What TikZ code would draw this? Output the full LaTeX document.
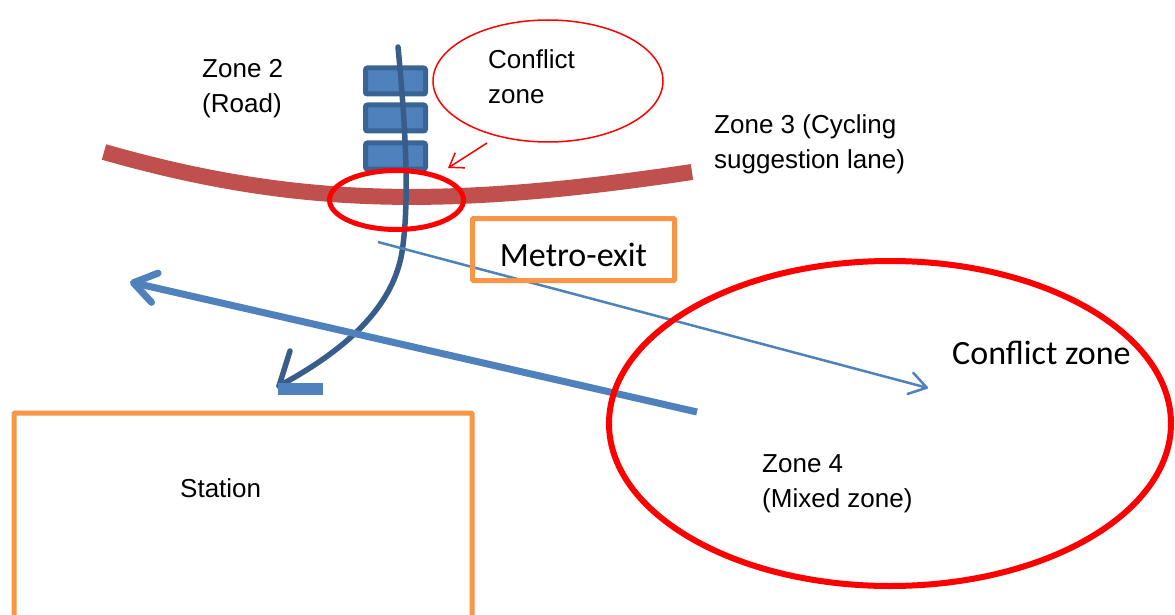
\documentclass[tikz,border=0pt]{standalone}
\usepackage{fontspec}
\setmainfont{Liberation Sans}
\newfontfamily\calibrifont{Carlito}
\usetikzlibrary{shapes.geometric,arrows.meta}
\definecolor{roadred}{HTML}{C0504D}
\definecolor{zonered}{HTML}{FF0000}
\definecolor{accblue}{HTML}{4F81BD}
\definecolor{darkblue}{HTML}{385D8A}
\definecolor{seatedge}{HTML}{3A6494}
\definecolor{boxorange}{HTML}{F79646}
\newcommand{\twoline}[2]{\begin{tabular}[t]{@{}l@{}}#1\\#2\end{tabular}}
\tikzset{
  arialtext/.style={font=\fontsize{26}{35}\selectfont, inner sep=0pt, anchor=base west},
  calibritext/.style={font=\calibrifont\fontsize{34}{40}\selectfont, inner sep=0pt, anchor=base west},
  roadline/.style={draw=roadred, line width=16pt},
  seat/.style={draw=seatedge, fill=accblue, line width=5pt, rounded corners=2pt, minimum width=60pt, minimum height=26pt, inner sep=0pt},
  darkline/.style={draw=darkblue, line width=5.5pt, line cap=round},
  tipbar/.style={fill=accblue, minimum width=45pt, minimum height=12pt, inner sep=0pt},
  widearrow/.style={draw=accblue, line width=7pt, -{Straight Barb[length=22pt,width=30pt,round]}},
  thinarrow/.style={draw=accblue, line width=2.5pt, -{Straight Barb[length=17pt,width=22pt,round]}},
  redarrow/.style={draw=zonered, line width=1.5pt, -{Straight Barb[length=13pt,width=18pt]}},
  thinzone/.style={ellipse, draw=zonered, line width=1.5pt, inner sep=0pt},
  thickzone/.style={ellipse, draw=zonered, line width=5pt, inner sep=0pt},
  bigzone/.style={ellipse, draw=zonered, line width=6pt, inner sep=0pt},
  orangebox/.style={draw=boxorange, line width=5pt, inner sep=0pt, rounded corners=1pt}
}
\begin{document}
\begin{tikzpicture}[x=1pt,y=-1pt]
\useasboundingbox (0,0) rectangle (1175,615);
\fill[white] (0,0) rectangle (1175,615);

% road (zone 3)
\coordinate (roadW) at (104,152);
\coordinate (roadE) at (692,172);
\draw[roadline] (roadW) .. controls (300,208) and (450,208) .. (roadE);

% seats / blocks
\node[seat] (blockA) at (395.5,81) {};
\node[seat] (blockB) at (395.5,118) {};
\node[seat] (blockC) at (395.5,156) {};

% dark curved arrow
\coordinate (pathtop) at (398,47);
\coordinate (pathmid) at (403,245);
\coordinate (pathtip) at (279,386);
\coordinate (barbend) at (290,351);
\draw[darkline] (pathtop) .. controls (404,110) and (410,190) .. (pathmid) .. controls (397,300) and (355,345) .. (pathtip);
\draw[darkline] (pathtip) -- (barbend);
\node[tipbar] (tipbarnode) at (300.5,389) {};

% thick blue arrow
\coordinate (wideS) at (697,412);
\coordinate (wideE) at (130,282);
\draw[widearrow] (wideS) -- (wideE);

% thin blue arrow
\coordinate (thinS) at (378,242);
\coordinate (thinE) at (928,388);
\draw[thinarrow] (thinS) -- (thinE);

% red zones
\node[thinzone, minimum width=230pt, minimum height=122pt] (czbubble) at (548,81) {};
\node[thickzone, minimum width=134pt, minimum height=59pt] (czsmall) at (396.5,200) {};
\node[bigzone, minimum width=562pt, minimum height=325pt] (mixed) at (890,423.5) {};

% small red arrow
\coordinate (redS) at (487,143);
\coordinate (redE) at (448,168);
\draw[redarrow] (redS) -- (redE);

% boxes
\node[orangebox, minimum width=202pt, minimum height=62pt, font=\calibrifont\fontsize{34}{40}\selectfont, text height=33pt, text depth=0pt] (metro) at (573.5,249.5) {Metro-exit};
\node[orangebox, minimum width=458pt, minimum height=212pt] (station) at (243,519) {};

% texts
\node[arialtext] (zone2) at (202,78) {\twoline{Zone 2}{(Road)}};
\node[arialtext] (czlabel) at (488,69) {\twoline{Conflict}{zone}};
\node[arialtext] (zone3) at (714,134) {\twoline{Zone 3 (Cycling}{suggestion lane)}};
\node[arialtext] (zone4) at (762,472) {\twoline{Zone 4}{(Mixed zone)}};
\node[arialtext] (stationlabel) at (180,497) {Station};
\node[calibritext] (czbig) at (952,364) {Conflict zone};
\end{tikzpicture}
\end{document}
